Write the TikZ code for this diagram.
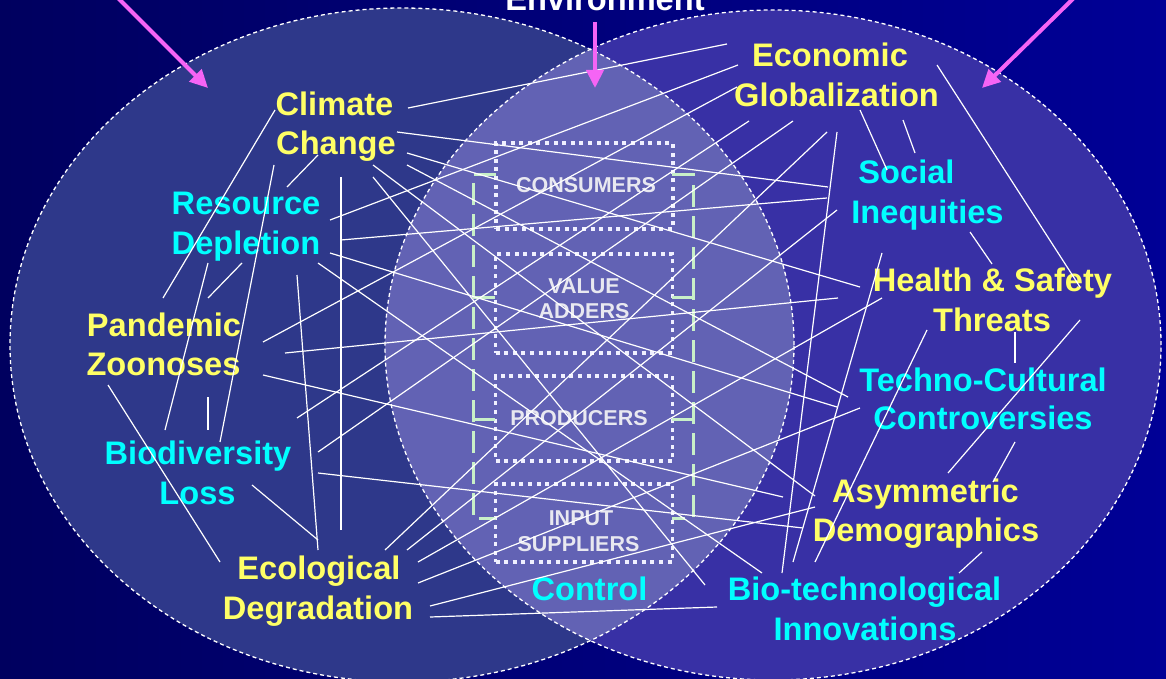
\documentclass[tikz,border=0pt]{standalone}
\usepackage{fontspec}
\setmainfont{Liberation Sans}
\usetikzlibrary{arrows.meta}
\definecolor{bgA}{RGB}{0,0,95}
\definecolor{bgB}{RGB}{0,0,150}
\definecolor{leftfill}{RGB}{46,56,138}
\definecolor{rightfill}{RGB}{56,48,165}
\definecolor{lensfill}{RGB}{98,98,180}
\definecolor{ylw}{RGB}{255,255,102}
\definecolor{cyn}{RGB}{0,255,255}
\definecolor{boxtxt}{RGB}{232,232,240}
\definecolor{pinkarrow}{RGB}{245,100,245}
\definecolor{brk}{RGB}{200,240,200}
\tikzset{
  big/.style={font=\fontsize{32.6}{39}\selectfont\bfseries, inner sep=0pt, anchor=base},
  ylab/.style={big, text=ylw},
  clab/.style={big, text=cyn},
  smalllab/.style={font=\fontsize{21.5}{26}\selectfont\bfseries, inner sep=0pt, anchor=base, text=boxtxt},
  link/.style={white, line width=1.2pt},
  dotbox/.style={draw=white!94!blue, line width=3.6pt, dash pattern=on 4pt off 4.6pt, minimum width=177pt, inner sep=0pt},
  bracket/.style={draw=brk, line width=3pt, dash pattern=on 22pt off 9pt},
  circ/.style={draw=white, line width=1.3pt, dash pattern=on 4pt off 3pt},
  pinkarr/.style={draw=pinkarrow, line width=4pt, -{Triangle[length=18pt,width=17pt]}}
}
\begin{document}
\begin{tikzpicture}[x=1pt,y=-1pt]
\useasboundingbox (0,0) rectangle (1166,679);
\shade[left color=bgA,right color=bgB] (0,0) rectangle (1166,679);
% circles
\fill[leftfill] (402,345) ellipse [x radius=392pt, y radius=337pt];
\fill[rightfill] (773,345) ellipse [x radius=388pt, y radius=335pt];
\begin{scope}
  \clip (402,345) ellipse [x radius=392pt, y radius=337pt];
  \fill[lensfill] (773,345) ellipse [x radius=388pt, y radius=335pt];
\end{scope}
\draw[circ] (402,345) ellipse [x radius=392pt, y radius=337pt];
\draw[circ] (773,345) ellipse [x radius=388pt, y radius=335pt];

% value chain boxes
\node[dotbox, minimum height=86pt] (bcons) at (584.5,186) {};
\node[dotbox, minimum height=99pt] (bval) at (584,303.5) {};
\node[dotbox, minimum height=85pt] (bprod) at (584,418.5) {};
\node[dotbox, minimum height=78pt] (binp) at (584,523) {};
\node[smalllab] (tcons) at (586,193) {CONSUMERS};
\node[smalllab] (tval1) at (584,293) {VALUE};
\node[smalllab] (tval2) at (584,318) {ADDERS};
\node[smalllab] (tprod) at (579,425) {PRODUCERS};
\node[smalllab] (tinp1) at (581,525) {INPUT};
\node[smalllab] (tinp2) at (578.5,551) {SUPPLIERS};

% green brackets
\draw[bracket] (496,175) -- (473,175) -- (473,518) -- (496,518);
\draw[bracket] (473,297) -- (497,297);
\draw[bracket] (473,419) -- (497,419);
\draw[bracket] (672,175) -- (693,175) -- (693,518) -- (672,518);
\draw[bracket] (693,297) -- (672,297);
\draw[bracket] (693,419) -- (672,419);

% labels
\node[ylab] (cc1) at (334.5,116) {Climate};
\node[ylab] (cc2) at (336,155) {Change};
\node[clab] (rd1) at (246,214) {Resource};
\node[clab] (rd2) at (246,254) {Depletion};
\node[ylab] (pz1) at (164,336) {Pandemic};
\node[ylab] (pz2) at (163.5,375) {Zoonoses};
\node[clab] (bl1) at (198,464) {Biodiversity};
\node[clab] (bl2) at (197.5,504) {Loss};
\node[ylab] (ed1) at (319,579) {Ecological};
\node[ylab] (ed2) at (318,619) {Degradation};
\node[clab] (ctl) at (589.5,600) {Control};
\node[ylab] (eg1) at (830,67) {Economic};
\node[ylab] (eg2) at (836.5,107) {Globalization};
\node[clab] (si1) at (906.5,183) {Social};
\node[clab] (si2) at (927.5,223) {Inequities};
\node[ylab] (hs1) at (992.5,291) {Health \& Safety};
\node[ylab] (hs2) at (992,331) {Threats};
\node[clab] (tc1) at (983,391) {Techno-Cultural};
\node[clab] (tc2) at (983,429) {Controversies};
\node[ylab] (ad1) at (925.5,502) {Asymmetric};
\node[ylab] (ad2) at (926,541) {Demographics};
\node[clab] (bi1) at (864.5,600) {Bio-technological};
\node[clab] (bi2) at (865,640) {Innovations};
\node[big, text=white] (env) at (605,11) {Environment};

% interconnecting lines
\foreach \a/\b/\c/\d in {
 408/108/727/44, 397/132/828/187, 407/153/860/287, 407/165/848/397,
 373/165/815/496, 373/177/705/585, 341/177/341/530, 318/155/287/187,
 275/110/163/298, 274/165/220/442, 330/220/738/65, 341/240/827/198,
 330/253/837/407, 318/263/762/573, 297/275/318/550, 242/263/208/298,
 208/263/165/430, 263/342/737/87, 285/353/838/298, 263/375/783/497,
 108/385/220/562, 208/397/208/430, 297/418/749/121, 318/452/793/121,
 318/473/803/528, 252/485/318/540, 385/550/827/132, 407/550/837/210,
 418/562/882/298, 418/583/860/408, 430/606/815/507, 430/617/717/607,
 837/132/782/573, 882/253/793/562, 927/330/815/562, 860/110/887/170,
 903/120/915/153, 937/65/1080/287, 970/232/992/264, 1015/332/1015/363,
 1080/320/948/473, 1015/442/993/482, 982/552/959/573}
 \draw[link] (\a,\b) -- (\c,\d);

% pink arrows
\coordinate (la0) at (112,-8);
\coordinate (la1) at (208,88);
\coordinate (ma0) at (595,22);
\coordinate (ma1) at (595,88);
\coordinate (ra0) at (1080,-8);
\coordinate (ra1) at (982,88);
\draw[pinkarr] (la0) -- (la1);
\draw[pinkarr] (ma0) -- (ma1);
\draw[pinkarr] (ra0) -- (ra1);
\end{tikzpicture}
\end{document}
